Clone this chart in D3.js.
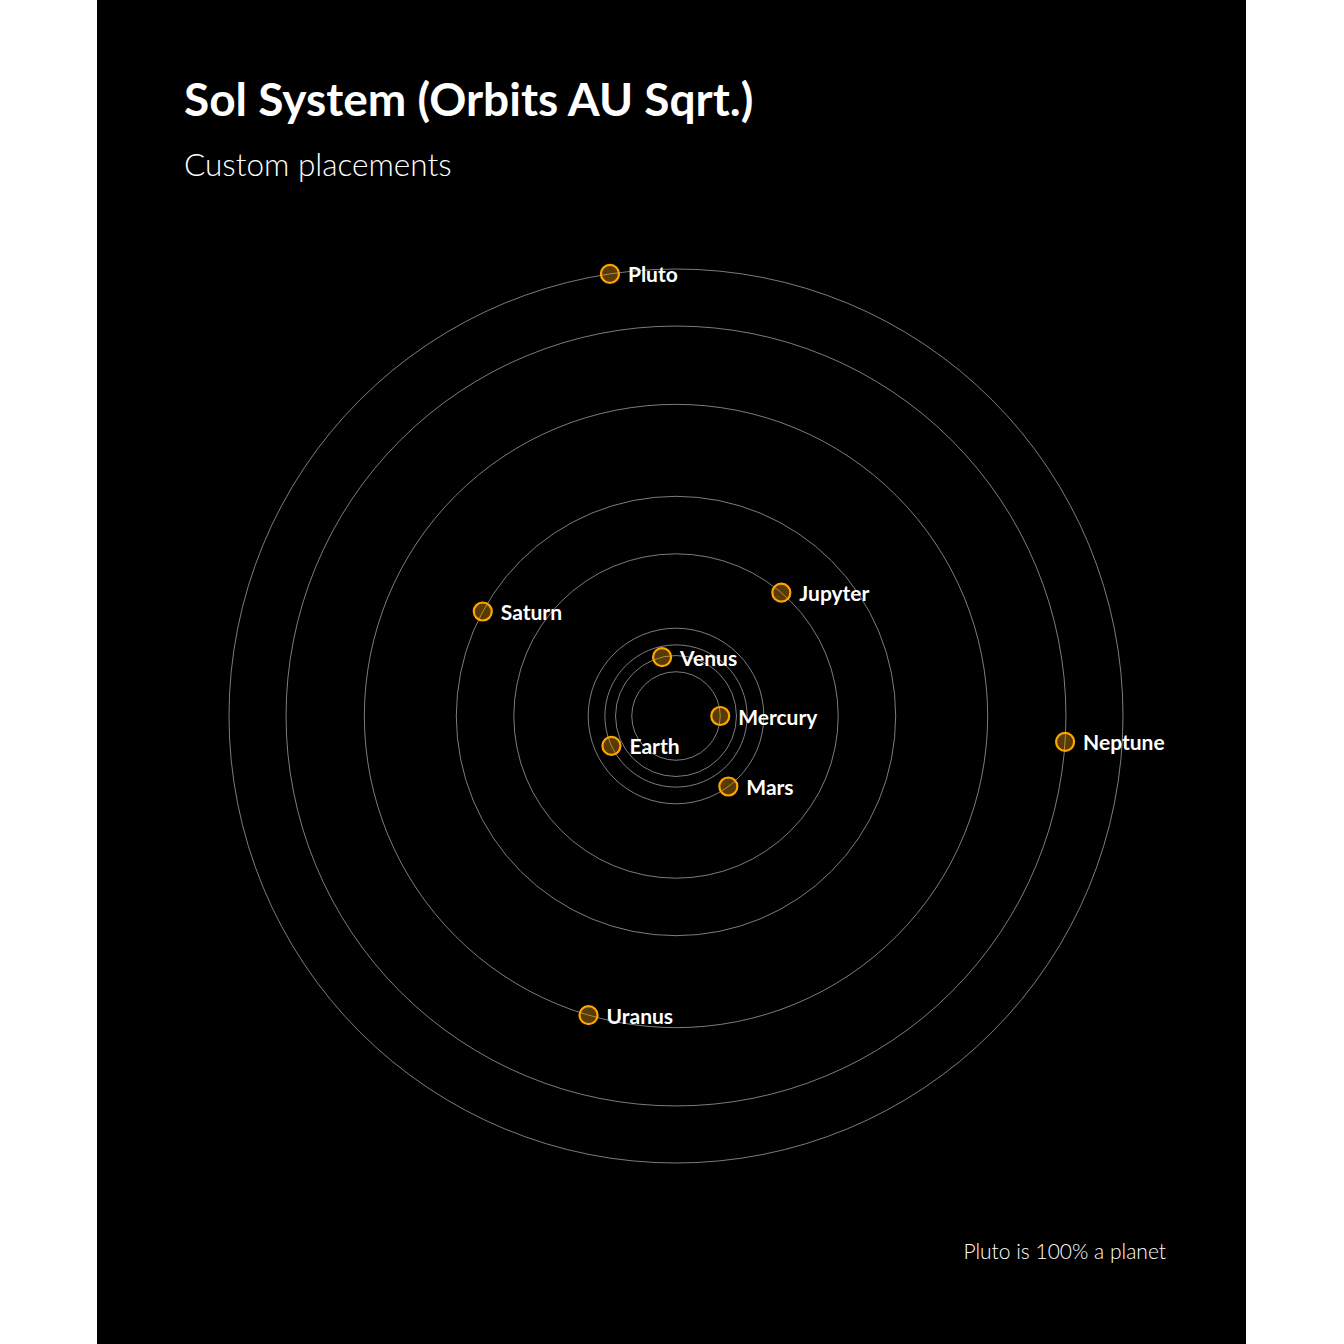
<!DOCTYPE html>
<html>
<head>
<meta charset="utf-8">
<style>
  body { margin: 0; background: #fff; }
  svg { display: block; }
  .title { font-family: Lato, 'Noto Sans', sans-serif; font-weight: 700; fill: #fff; }
  .subtitle, .caption { font-family: Lato, 'Noto Sans', sans-serif; font-weight: 300; fill: #fff; }
  .label { font-family: Lato, 'Noto Sans', sans-serif; font-weight: 700; fill: #fff; }
</style>
</head>
<body>
<svg width="1344" height="1344"></svg>
<script src="https://d3js.org/d3.v7.min.js"></script>
<script>
  // planets, distance from the sun (AU) and where they sit on the orbit (degrees, counter-clockwise from east)
  const planets = ["Mercury", "Venus", "Earth", "Mars", "Jupyter", "Saturn", "Uranus", "Neptune", "Pluto"];
  const au = [0.387, 0.723, 1, 1.524, 5.2, 9.54, 19.2, 30.06, 39.5];
  const angle = [0, 103.3, 204.8, -53.4, 49.5, 151.6, -106.3, -3.8, 98.5];

  const titleText = "Sol System (Orbits AU Sqrt.)";
  const subtitleText = "Custom placements";
  const captionText = "Pluto is 100% a planet";

  const W = 1344, H = 1344;
  const cx = 676, cy = 716;

  const svg = d3.select("svg");

  // black panel
  svg.append("rect")
    .attr("x", 97).attr("y", 0)
    .attr("width", 1149).attr("height", H)
    .attr("fill", "#000");

  const r = d3.scaleSqrt()
    .domain([0, d3.max(au)])
    .range([0, 447]);

  const data = planets.map((p, i) => ({ name: p, au: au[i], angle: angle[i] }));
  data.forEach(d => {
    const a = d.angle * Math.PI / 180;
    d.x = cx + r(d.au) * Math.cos(a);
    d.y = cy - r(d.au) * Math.sin(a);
  });

  const g = svg.append("g");

  g.selectAll(".orbit")
    .data(data)
    .join("circle")
    .attr("class", "orbit")
    .attr("cx", cx)
    .attr("cy", cy)
    .attr("r", d => r(d.au))
    .style("fill", "none")
    .style("stroke", "#8a8a8a")
    .style("stroke-width", 0.9);

  g.selectAll(".planet")
    .data(data)
    .join("circle")
    .attr("class", "planet")
    .attr("cx", d => d.x)
    .attr("cy", d => d.y)
    .attr("r", 9)
    .style("fill", "orange")
    .style("fill-opacity", 0.35)
    .style("stroke", "orange")
    .style("stroke-width", 2.2);

  g.selectAll(".label")
    .data(data)
    .join("text")
    .attr("class", "label")
    .attr("x", d => d.x + 18)
    .attr("y", d => d.y + 8.5)
    .style("font-size", "21px")
    .text(d => d.name);

  svg.append("text")
    .attr("class", "title")
    .attr("x", 184).attr("y", 116)
    .style("font-size", "46px")
    .text(titleText);

  svg.append("text")
    .attr("class", "subtitle")
    .attr("x", 184).attr("y", 176)
    .style("font-size", "31.5px")
    .text(subtitleText);

  svg.append("text")
    .attr("class", "caption")
    .attr("x", 1166).attr("y", 1259)
    .attr("text-anchor", "end")
    .style("font-size", "21px")
    .text(captionText);
</script>
</body>
</html>
